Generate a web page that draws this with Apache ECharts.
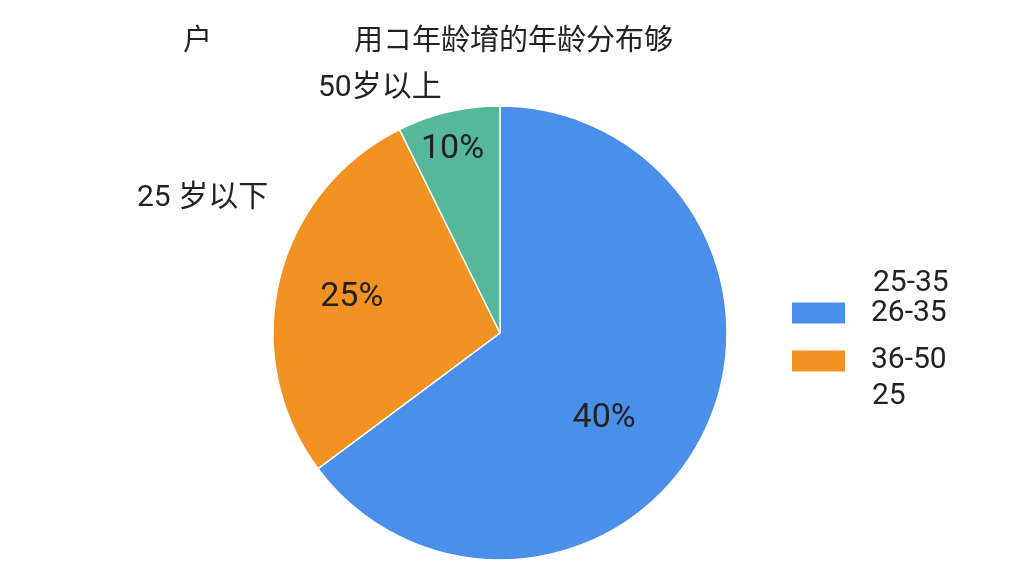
<!DOCTYPE html>
<html>
<head>
<meta charset="utf-8">
<script src="https://cdn.jsdelivr.net/npm/echarts@6/dist/echarts.min.js"></script>
<style>html,body{margin:0;padding:0;background:#fff}#c{width:1024px;height:576px}</style>
</head>
<body>
<div id="c"></div>
<script>
const categories = ['26-35', '36-50', '50岁以上'];
const sliceValues = [64.8, 27.9, 7.3];
const sliceLabels = ['40%', '25%', '10%'];
const sliceColors = ['#4A8FEA', '#F29222', '#55B89A'];
const legendNames = ['26-35', '36-50'];
const legendExtraTop = '25-35';
const legendExtraBottom = '25';
const outerLabels = ['50岁以上', '25 岁以下'];
const titleLeft = '户';
const titleMain = '用コ年龄堉的年龄分布够';

const FONT = 'Roboto, "Noto Sans CJK SC", sans-serif';
const labelOffsets = [[0, 33], [-35, -8], [-21, -70]];

const chart = echarts.init(document.getElementById('c'));
chart.setOption({
  animation: false,
  textStyle: { fontFamily: FONT },
  title: [
    { text: titleLeft, left: 178, top: 23, textStyle: { fontSize: 29, fontWeight: 'normal', color: '#222', fontFamily: FONT } },
    { text: titleMain, left: 349, top: 23, textStyle: { fontSize: 29, fontWeight: 'normal', color: '#222', fontFamily: FONT } }
  ],
  legend: {
    orient: 'vertical',
    left: 790,
    top: 298,
    padding: 0,
    data: legendNames,
    icon: 'rect',
    itemWidth: 55,
    itemHeight: 23,
    itemGap: 18,
    textStyle: { fontSize: 30, color: '#222', lineHeight: 23, padding: [0, 0, 0, 20], fontFamily: FONT }
  },
  graphic: [
    { type: 'text', left: 873, top: 268, style: { text: legendExtraTop, fontSize: 30, fill: '#222', fontFamily: FONT } },
    { type: 'text', left: 872, top: 381, style: { text: legendExtraBottom, fontSize: 30, fill: '#222', fontFamily: FONT } },
    { type: 'text', left: 318, top: 74, style: { text: outerLabels[0], fontSize: 30, fill: '#222', fontFamily: FONT } },
    { type: 'text', left: 137, top: 184, style: { text: outerLabels[1], fontSize: 30, fill: '#222', fontFamily: FONT } }
  ],
  series: [{
    type: 'pie',
    center: [500, 333],
    radius: 227,
    startAngle: 90,
    clockwise: true,
    avoidLabelOverlap: false,
    itemStyle: { borderColor: '#fff', borderWidth: 1.5 },
    label: { show: true, position: 'inside', fontSize: 34, color: '#222', fontFamily: FONT },
    labelLine: { show: false },
    emphasis: { disabled: true },
    data: categories.map((n, i) => ({
      name: n,
      value: sliceValues[i],
      itemStyle: { color: sliceColors[i] },
      label: { formatter: sliceLabels[i], offset: labelOffsets[i] }
    }))
  }]
});
</script>
</body>
</html>
